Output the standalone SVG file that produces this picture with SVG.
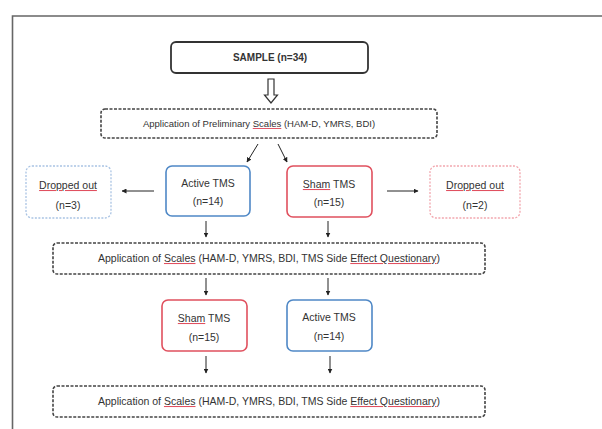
<svg xmlns="http://www.w3.org/2000/svg" width="602" height="429" viewBox="0 0 602 429">
<defs>
<marker id="ah" viewBox="0 0 10 10" refX="9" refY="5" markerWidth="5" markerHeight="5" orient="auto">
<path d="M0,0 L10,5 L0,10 z" fill="#222"/>
</marker>
<style>
text{font-family:"Liberation Sans","Open Sans",Arial,sans-serif;font-size:10.5px;fill:#333;text-anchor:middle}
.b{font-weight:bold;font-size:10px}
.p{font-size:9.5px}
.sq{text-decoration:underline;fill:#e05060}
.sq tspan{fill:#333}
.dash{fill:#fff;stroke:#444;stroke-width:1.6;stroke-dasharray:3,1.5}
.blue{fill:#fff;stroke:#4f88c6;stroke-width:1.6}
.red{fill:#fff;stroke:#e0505e;stroke-width:1.6}
.lblue{fill:#fff;stroke:#a9c3e3;stroke-width:1.3;stroke-dasharray:2,1.5}
.lred{fill:#fff;stroke:#f2a7ae;stroke-width:1.3;stroke-dasharray:2,1.5}
.c{stroke:#222;stroke-width:1;fill:none;marker-end:url(#ah)}
</style>
</defs>
<rect width="602" height="429" fill="#fff"/>
<path d="M12.5,440 V16 H610" fill="none" stroke="#666" stroke-width="1.6"/>

<g id="sample">
<rect x="171" y="42" width="197" height="31" rx="5" fill="#fff" stroke="#333" stroke-width="1.8"/>
<text x="270" y="61" class="b">SAMPLE (n=34)</text>
</g>

<g id="prelim">
<rect x="101" y="109" width="336" height="29" rx="4" class="dash"/>
<text x="259" y="127" class="p">Application of Preliminary <tspan class="sq"><tspan>Scales</tspan></tspan> (HAM-D, YMRS, BDI)</text>
</g>

<g id="drop1">
<rect x="26" y="166" width="85" height="52" rx="6" class="lblue"/>
<text x="68" y="189"><tspan class="sq"><tspan>Dropped out</tspan></tspan></text>
<text x="68" y="209">(n=3)</text>
</g>

<g id="active1">
<rect x="166" y="166" width="84" height="50" rx="6" class="blue"/>
<text x="208" y="187">Active TMS</text>
<text x="208" y="205">(n=14)</text>
</g>

<g id="sham1">
<rect x="287" y="166" width="85" height="51" rx="6" class="red"/>
<text x="329" y="188"><tspan class="sq"><tspan>Sham</tspan></tspan> TMS</text>
<text x="329" y="206">(n=15)</text>
</g>

<g id="drop2">
<rect x="430" y="166" width="90" height="52" rx="6" class="lred"/>
<text x="475" y="189"><tspan class="sq"><tspan>Dropped out</tspan></tspan></text>
<text x="475" y="209">(n=2)</text>
</g>

<g id="scales2">
<rect x="53" y="243" width="432" height="31" rx="4" class="dash"/>
<text x="269" y="262">Application of <tspan class="sq"><tspan>Scales</tspan></tspan> (HAM-D, YMRS, BDI, TMS Side <tspan class="sq"><tspan>Effect Questionary</tspan></tspan>)</text>
</g>

<g id="sham2">
<rect x="162" y="300" width="85" height="51" rx="6" class="red"/>
<text x="204" y="322"><tspan class="sq"><tspan>Sham</tspan></tspan> TMS</text>
<text x="204" y="341">(n=15)</text>
</g>

<g id="active2">
<rect x="287" y="300" width="85" height="51" rx="6" class="blue"/>
<text x="329" y="321">Active TMS</text>
<text x="329" y="340">(n=14)</text>
</g>

<g id="scales3">
<rect x="53" y="386" width="432" height="31" rx="4" class="dash"/>
<text x="269" y="405">Application of <tspan class="sq"><tspan>Scales</tspan></tspan> (HAM-D, YMRS, BDI, TMS Side <tspan class="sq"><tspan>Effect Questionary</tspan></tspan>)</text>
</g>

<g id="connectors">
<path d="M268,79 H274 V95 H277.5 L271,103 L264.5,95 H268 Z" fill="#fff" stroke="#333" stroke-width="1.2"/>
<path class="c" d="M258,144 L247,162"/>
<path class="c" d="M278,144 L287,162"/>
<path class="c" d="M154,191 H122"/>
<path class="c" d="M387,191 H418"/>
<path class="c" d="M206,221 V237"/>
<path class="c" d="M328,221 V237"/>
<path class="c" d="M206,278 V295"/>
<path class="c" d="M328,278 V295"/>
<path class="c" d="M206,356 V373"/>
<path class="c" d="M330,356 V373"/>
</g>
</svg>
